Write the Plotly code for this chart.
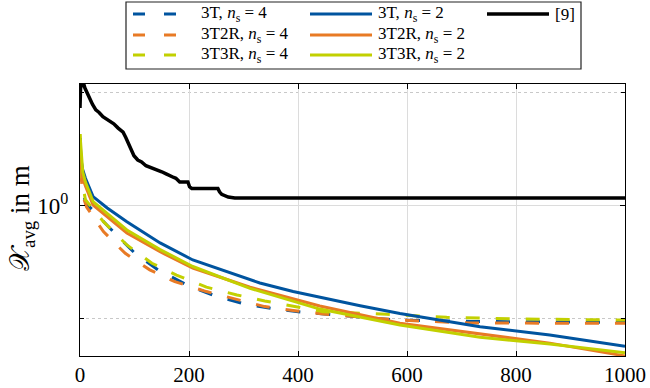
import plotly.graph_objects as go

# ---------------- data ----------------
t3_s4_x = [0, 2, 5, 10, 61, 101, 143, 196, 248, 303, 358, 409, 581, 716, 1000]
t3_s4_y = [1.99, 1.47, 1.19, 1.03, 0.766, 0.614, 0.519, 0.445, 0.398, 0.366, 0.348, 0.337, 0.311, 0.307, 0.304]

t3t2r_s4_x = [0, 2, 5, 12, 43, 83, 128, 174, 232, 288, 339, 391, 446, 587, 716, 1000]
t3t2r_s4_y = [1.95, 1.36, 1.11, 0.985, 0.766, 0.614, 0.519, 0.460, 0.416, 0.385, 0.357, 0.343, 0.331, 0.311, 0.302, 0.301]

t3t3r_s4_x = [0, 2, 5, 10, 43, 86, 132, 177, 232, 288, 339, 391, 446, 563, 673, 800, 1000]
t3t3r_s4_y = [2.07, 1.51, 1.23, 1.06, 0.848, 0.669, 0.555, 0.492, 0.435, 0.402, 0.378, 0.359, 0.339, 0.330, 0.320, 0.315, 0.311]

t3_s2_x = [0, 2, 5, 10, 24, 50, 86, 147, 207, 269, 330, 391, 453, 514, 587, 679, 734, 862, 1000]
t3_s2_y = [1.99, 1.59, 1.44, 1.32, 1.094, 0.975, 0.848, 0.683, 0.574, 0.509, 0.454, 0.416, 0.386, 0.360, 0.333, 0.307, 0.291, 0.267, 0.238]

t3t2r_s2_x = [0, 2, 5, 10, 24, 86, 147, 207, 312, 440, 587, 734, 862, 1000]
t3t2r_s2_y = [1.95, 1.51, 1.32, 1.22, 1.005, 0.756, 0.624, 0.529, 0.435, 0.359, 0.301, 0.270, 0.246, 0.216]

t3t3r_s2_x = [0, 2, 5, 10, 24, 86, 147, 207, 312, 440, 587, 734, 862, 1000]
t3t3r_s2_y = [2.07, 1.76, 1.41, 1.27, 1.04, 0.779, 0.638, 0.537, 0.430, 0.348, 0.296, 0.261, 0.244, 0.223]

ref9_x = [0, 1, 3, 7, 9, 14, 18, 23, 29, 35, 42, 48, 55, 62, 70, 75, 79, 84, 88, 94,
          99, 106, 113, 121, 132, 140, 150, 158, 165, 172, 176, 183, 198, 201, 205, 230,
          253, 256, 260, 272, 284, 1000]
ref9_y = [2.70, 3.30, 3.44, 3.44, 3.31, 3.10, 2.93, 2.80, 2.65, 2.58, 2.47, 2.42, 2.34, 2.30,
          2.20, 2.16, 2.11, 2.00, 1.91, 1.76, 1.66, 1.59, 1.56, 1.50, 1.47, 1.44, 1.41, 1.38,
          1.35, 1.33, 1.32, 1.27, 1.27, 1.21, 1.19, 1.19, 1.19, 1.15, 1.12, 1.09, 1.08, 1.08]

x_ticks = [0, 200, 400, 600, 800, 1000]
y_major = [1.0]
y_major_text = ["10<sup>0</sup>"]
y_minor = [10 ** -0.5, 10 ** 0.5]

# ---------------- styles ----------------
BLUE = "#00549F"
ORANGE = "#E87A25"
GREEN = "#C2D000"
BLACK = "#000000"
FONT = "'Liberation Serif', 'DejaVu Serif', serif"
DASH = "14px,16px"
LW = 3

series = [
    ("3T, <i>n</i><sub>s</sub> = 4", t3_s4_x, t3_s4_y, BLUE, DASH),
    ("3T2R, <i>n</i><sub>s</sub> = 4", t3t2r_s4_x, t3t2r_s4_y, ORANGE, DASH),
    ("3T3R, <i>n</i><sub>s</sub> = 4", t3t3r_s4_x, t3t3r_s4_y, GREEN, DASH),
    ("3T, <i>n</i><sub>s</sub> = 2", t3_s2_x, t3_s2_y, BLUE, "solid"),
    ("3T2R, <i>n</i><sub>s</sub> = 2", t3t2r_s2_x, t3t2r_s2_y, ORANGE, "solid"),
    ("3T3R, <i>n</i><sub>s</sub> = 2", t3t3r_s2_x, t3t3r_s2_y, GREEN, "solid"),
    ("[9]", ref9_x, ref9_y, BLACK, "solid"),
]

fig = go.Figure()
for name, xs, ys, col, dash in series:
    fig.add_trace(go.Scatter(x=xs, y=ys, mode="lines", name=name, showlegend=False,
                             line=dict(color=col, width=LW + (0.5 if col == BLACK else 0), dash=dash)))

# pixel geometry
L, R, T, B = 80, 625, 84, 356
W, H = R - L, B - T
def px(xp):
    return (xp - L) / W
def py(yp):
    return (B - yp) / H

# ---------------- manual legend (column-major like the original) ----------------
shapes = [dict(type="rect", xref="paper", yref="paper", x0=px(126), x1=px(581),
               y0=py(69), y1=py(2), line=dict(color="#222222", width=1.2), fillcolor="white")]
annots = []
rows_y = [14, 35, 55]
cols_x = [133, 310, 487]
legend_layout = [(0, 0), (0, 1), (0, 2), (1, 0), (1, 1), (1, 2), (2, 0)]
for (name, xs, ys, col, dash), (c, r) in zip(series, legend_layout):
    x0 = cols_x[c]
    yy = rows_y[r]
    shapes.append(dict(type="line", xref="paper", yref="paper", x0=px(x0), x1=px(x0 + 62),
                       y0=py(yy), y1=py(yy),
                       line=dict(color=col, width=LW + (0.5 if col == BLACK else 0),
                                 dash=("12px,19px" if dash != "solid" else "solid"))))
    annots.append(dict(xref="paper", yref="paper", x=px(x0 + 66), y=py(yy), text=name,
                       showarrow=False, xanchor="left", yanchor="middle",
                       font=dict(family=FONT, size=17, color="black")))

annots.append(dict(xref="paper", yref="paper", x=px(22), y=py(218), textangle=-90,
                   text="𝒳<sub>avg</sub> in m", showarrow=False,
                   xanchor="center", yanchor="middle",
                   font=dict(family=FONT, size=27, color="black")))

fig.update_layout(
    width=650, height=388,
    margin=dict(l=L, r=650 - R, t=T, b=388 - B, autoexpand=False),
    paper_bgcolor="white", plot_bgcolor="white",
    shapes=shapes, annotations=annots,
    showlegend=False,
    font=dict(family=FONT, size=20, color="black"),
)
fig.update_xaxes(
    range=[0, 1000], tickvals=x_ticks, ticktext=[str(v) for v in x_ticks],
    showgrid=True, gridcolor="#DCDCDC", gridwidth=1,
    ticks="inside", ticklen=5, tickcolor="black", tickwidth=1,
    showline=True, linecolor="black", linewidth=1.2, mirror="ticks",
    zeroline=False, tickfont=dict(family=FONT, size=21), automargin=False,
    ticklabelstandoff=0,
)
fig.update_yaxes(
    type="log", range=[-0.666, 0.5376],
    tickvals=y_major, ticktext=y_major_text,
    showgrid=True, gridcolor="#DCDCDC", gridwidth=1,
    ticks="inside", ticklen=5, tickcolor="black", tickwidth=1,
    showline=True, linecolor="black", linewidth=1.2, mirror="ticks",
    zeroline=False, tickfont=dict(family=FONT, size=23), automargin=False,
    ticklabelstandoff=6,
    minor=dict(tickvals=y_minor, showgrid=True, gridcolor="#C8C8C8", griddash="dot",
               gridwidth=1, ticks="inside", ticklen=4, tickcolor="black"),
)

fig.write_html("out.html")
